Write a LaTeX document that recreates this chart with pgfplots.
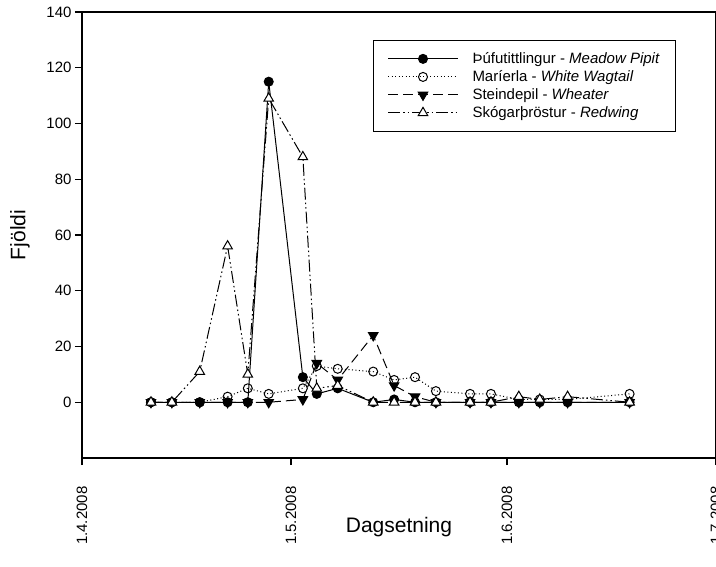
\documentclass[border=0pt]{standalone}
\usepackage{fontspec}
\setmainfont{Liberation Sans}
\usepackage{pgfplots}
\usepackage{pgfplotstable}
\pgfplotsset{compat=1.18}
\pgfplotstableread{
x     meadow wagtail wheater redwing
9.9   0   0   0   0
12.9  0   0   0   0
16.9  0   0   0   11
20.9  0   2   0   56
23.8  0   5   0   10
26.8  115 3   0   109
31.7  9   5   1   88
33.7  3   13  14  5
36.7  5   12  8   6
41.8  0   11  24  0
44.8  1   8   6   0
47.8  0   9   2   0
50.8  0   4   0   0
55.7  0   3   0   0
58.7  0   3   0   0
62.7  0   1   0   2
65.7  0   1   0   1
69.7  0   1   0   2
78.6  0   3   0   0
}\birds
\begin{document}
\begin{tikzpicture}[x=1pt,y=1pt]
\begin{axis}[
  name=ax, at={(0,0)}, anchor=south west,
  scale only axis, width=634pt, height=446pt,
  xmin=0, xmax=91, ymin=-20, ymax=140,
  axis line style={line width=1.3pt},
  xtick={0,30,61,91},
  xticklabels={1.4.2008,1.5.2008,1.6.2008,1.7.2008},
  ytick={0,20,...,140},
  xtick pos=bottom, ytick pos=left,
  tick align=outside, major tick length=7pt,
  tick style={line width=1.3pt, black},
  /pgf/number format/assume math mode=true,
  ticklabel style={font=\fontsize{15}{17}\selectfont},
  xticklabel style={rotate=90, anchor=east},
  xticklabel shift=18pt,
  xlabel={Dagsetning}, ylabel={Fjöldi},
  xlabel style={at={(axis description cs:0.5,-0.1547)}, anchor=center, font=\fontsize{21}{24}\selectfont},
  ylabel style={at={(axis description cs:-0.0978,0.5)}, anchor=center, font=\fontsize{21}{24}\selectfont},
  legend style={at={(0.459,0.937)}, anchor=north west, draw=black, line width=1pt,
    font=\fontsize{15}{17}\selectfont, cells={anchor=west}, row sep=1.5pt, column sep=12pt,
    inner xsep=14pt, inner ysep=10pt},
  legend cell align=left,
  legend image code/.code={\draw[mark repeat=2,mark phase=2,#1] plot coordinates {(0pt,0pt) (35pt,0pt) (70pt,0pt)};},
]
\addplot[black, line width=1pt, mark=*, mark size=4.5pt, mark options={solid, fill=black}] table[x=x,y=meadow]{\birds};
\addlegendentry{Þúfutittlingur - \textit{Meadow Pipit}}
\addplot[black, line width=1pt, dash pattern=on 1pt off 2.5pt, mark=o, mark size=4.5pt, mark options={solid, fill=white}] table[x=x,y=wagtail]{\birds};
\addlegendentry{Maríerla - \textit{White Wagtail}}
\addplot[black, line width=1pt, dash pattern=on 10pt off 5pt, mark=triangle*, mark size=5.5pt, mark options={solid, fill=black, rotate=180}] table[x=x,y=wheater]{\birds};
\addlegendentry{Steindepil - \textit{Wheater}}
\addplot[black, line width=1pt, dash pattern=on 12pt off 3pt on 1.5pt off 3pt on 1.5pt off 3pt, mark=triangle*, mark size=5.5pt, mark options={solid, fill=white}] table[x=x,y=redwing]{\birds};
\addlegendentry{Skógarþröstur - \textit{Redwing}}
\end{axis}
\pgfresetboundingbox
\path[use as bounding box] (-82pt,-108pt) rectangle (634pt,458pt);
\end{tikzpicture}
\end{document}
